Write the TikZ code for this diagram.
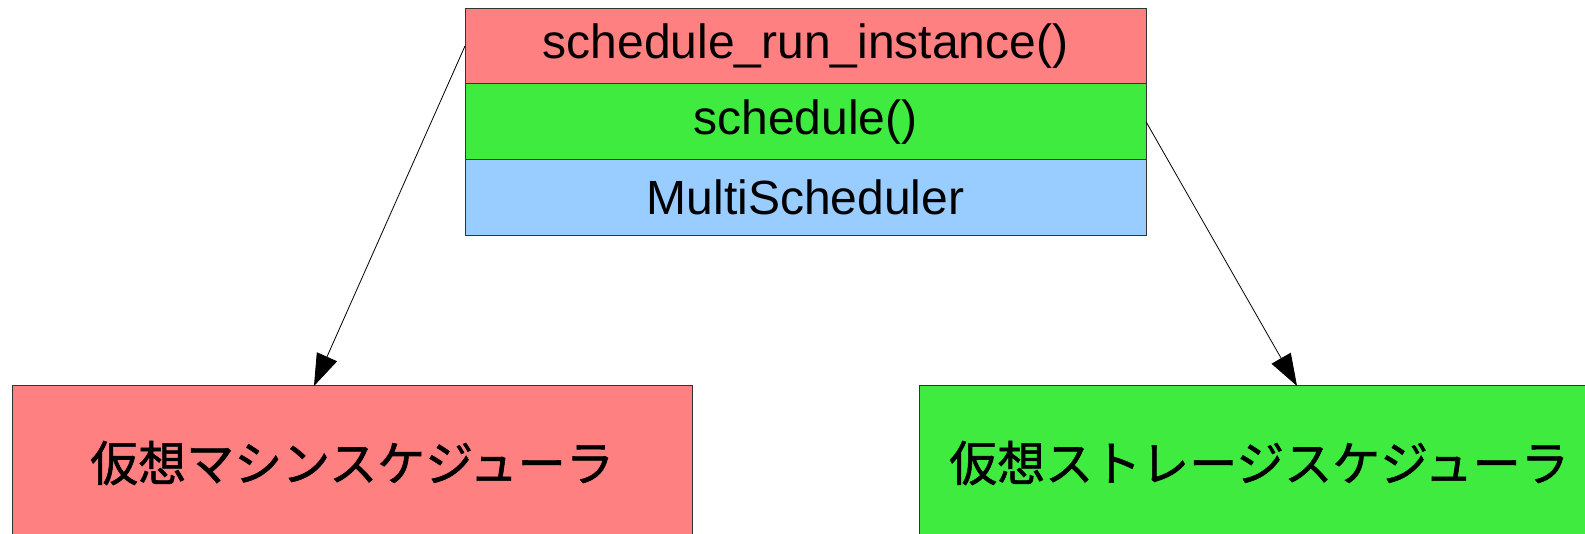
\documentclass[tikz,border=0pt]{standalone}
\usepackage{fontspec}
\setmainfont{Liberation Sans}
\newfontfamily\jpfont[FakeBold=1.2]{Noto Sans CJK JP}
\usetikzlibrary{positioning,arrows.meta}

\definecolor{boxred}{HTML}{FF8080}
\definecolor{boxgreen}{HTML}{3FEB3F}
\definecolor{boxblue}{HTML}{99CCFF}

\begin{document}
\begin{tikzpicture}[x=1pt,y=-1pt,
	box/.style={draw=black!80, line width=1pt, inner sep=0pt, outer sep=0pt,
		minimum width=681pt, minimum height=75.7pt,
		font=\fontsize{48}{58}\selectfont},
	sched/.style={box, minimum width=680pt, minimum height=154pt, font=\jpfont\fontsize{48}{58}\selectfont},
	call/.style={-{Triangle[length=32pt,width=22pt]}, line width=0.8pt, shorten >=0pt}]
	\useasboundingbox (0,0) rectangle (1585,534);
	% MultiScheduler stack
	\node[box, fill=boxred] (run_inst) at (805.5,46) {schedule\_run\_instance()};
	\node[box, fill=boxgreen] (schedule) [below=0pt of run_inst] {schedule()};
	\node[box, fill=boxblue] (multi) [below=0pt of schedule] {MultiScheduler};
	% schedulers it dispatches to
	\node[sched, fill=boxred] (vm) at (352,463) {仮想マシンスケジューラ};
	\node[sched, fill=boxgreen] (storage) at (1259,463) {仮想ストレージスケジューラ};
	\path (vm.north west) ++(302,0) coordinate (vm_tip);
	\path (storage.north west) ++(378,0) coordinate (storage_tip);
	\draw[call] (run_inst.west) -- (vm_tip);
	\draw[call] (schedule.east) -- (storage_tip);
\end{tikzpicture}
\end{document}
